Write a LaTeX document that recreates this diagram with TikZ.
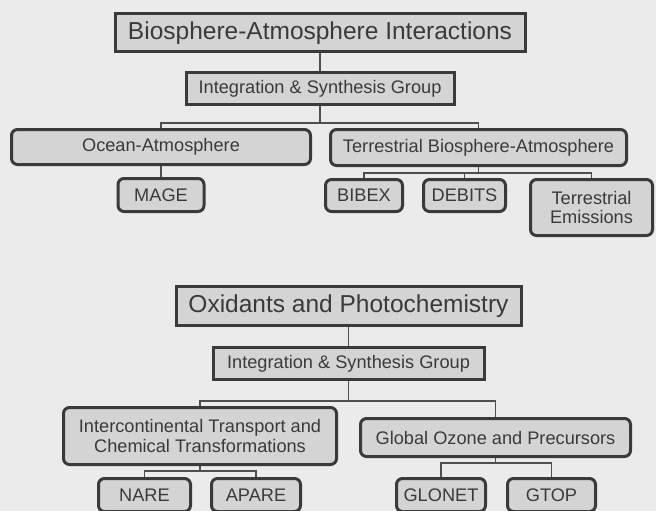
\documentclass[tikz,border=0pt]{standalone}
\usepackage{fontspec}
\setmainfont{Liberation Sans}
\usetikzlibrary{positioning, calc}
\definecolor{paper}{HTML}{EBEBEB}
\definecolor{boxgray}{HTML}{D4D4D4}
\definecolor{ink}{HTML}{3A3A3A}

\begin{document}
\begin{tikzpicture}[x=1pt, y=-1pt,
    head/.style={draw=ink, line width=3pt, fill=boxgray, text=ink, inner sep=0pt,
        font=\fontsize{24.5}{28}\selectfont},
    group/.style={head, font=\fontsize{18.2}{19.5}\selectfont},
    part/.style={group, rounded corners=6pt, align=center},
    link/.style={draw=ink!90, line width=1.2pt}]

    \fill[paper] (0,0) rectangle (656,511);
    \useasboundingbox (0,0) rectangle (656,511);

    % Biosphere-Atmosphere Interactions
    \node[head, minimum width=410pt, minimum height=38pt] (bio) at (320,33) {Biosphere-Atmosphere Interactions};
    \node[group, minimum width=268pt, minimum height=32pt] (bioIS) at (320,88.5) {Integration \& Synthesis Group};
    \node[part, minimum width=299pt, minimum height=35pt] (ocean) at (161,147) {Ocean-Atmosphere};
    \node[part, minimum width=296pt, minimum height=36pt] (terr) at (478.5,147.5) {Terrestrial Biosphere-Atmosphere};
    \node[part, minimum width=86pt, minimum height=33pt] (mage) at (161,195) {MAGE};
    \node[part, minimum width=77pt, minimum height=32pt] (bibex) at (364,195.5) {BIBEX};
    \node[part, minimum width=82pt, minimum height=32pt] (debits) at (464.5,195.5) {DEBITS};
    \node[part, minimum width=122pt, minimum height=56pt] (temis) at (591.5,207.5) {Terrestrial\\Emissions};

    \coordinate (bioFork) at (bioIS.south |- 0,123);
    \coordinate (terrFork) at (terr.south |- 0,173);
    \draw[link] (bio) -- (bioIS);
    \draw[link] (bioIS.south) -- (bioFork) -| (ocean.north);
    \draw[link] (bioFork) -| (terr.north);
    \draw[link] (ocean) -- (mage);
    \draw[link] (terr.south) -- (terrFork);
    \draw[link] (bibex.north) |- (terrFork) -| (temis.north);
    \draw[link] (debits.north) -- (debits.north |- terrFork);

    % Oxidants and Photochemistry
    \node[head, minimum width=345pt, minimum height=39pt] (ox) at (348.5,306) {Oxidants and Photochemistry};
    \node[group, minimum width=271pt, minimum height=32pt] (oxIS) at (348.5,363.5) {Integration \& Synthesis Group};
    \node[part, minimum width=273pt, minimum height=57pt] (itct) at (200,436) {Intercontinental Transport and\\Chemical Transformations};
    \node[part, minimum width=270pt, minimum height=38pt] (gop) at (495.5,437.5) {Global Ozone and Precursors};
    \node[part, minimum width=92pt, minimum height=33pt] (nare) at (144.5,495) {NARE};
    \node[part, minimum width=89pt, minimum height=33pt] (apare) at (256,495) {APARE};
    \node[part, minimum width=89pt, minimum height=33pt] (glonet) at (441,495) {GLONET};
    \node[part, minimum width=88pt, minimum height=33pt] (gtop) at (551.5,495) {GTOP};

    \coordinate (oxFork) at (oxIS.south |- 0,401);
    \coordinate (itctFork) at (itct.south |- 0,471);
    \coordinate (gopFork) at (gop.south |- 0,463);
    \draw[link] (ox) -- (oxIS);
    \draw[link] (oxIS.south) -- (oxFork) -| (itct.north);
    \draw[link] (oxFork) -| (gop.north);
    \draw[link] (itct.south) -- (itctFork);
    \draw[link] (nare.north) |- (itctFork) -| (apare.north);
    \draw[link] (gop.south) -- (gopFork);
    \draw[link] (glonet.north) |- (gopFork) -| (gtop.north);
\end{tikzpicture}
\end{document}
